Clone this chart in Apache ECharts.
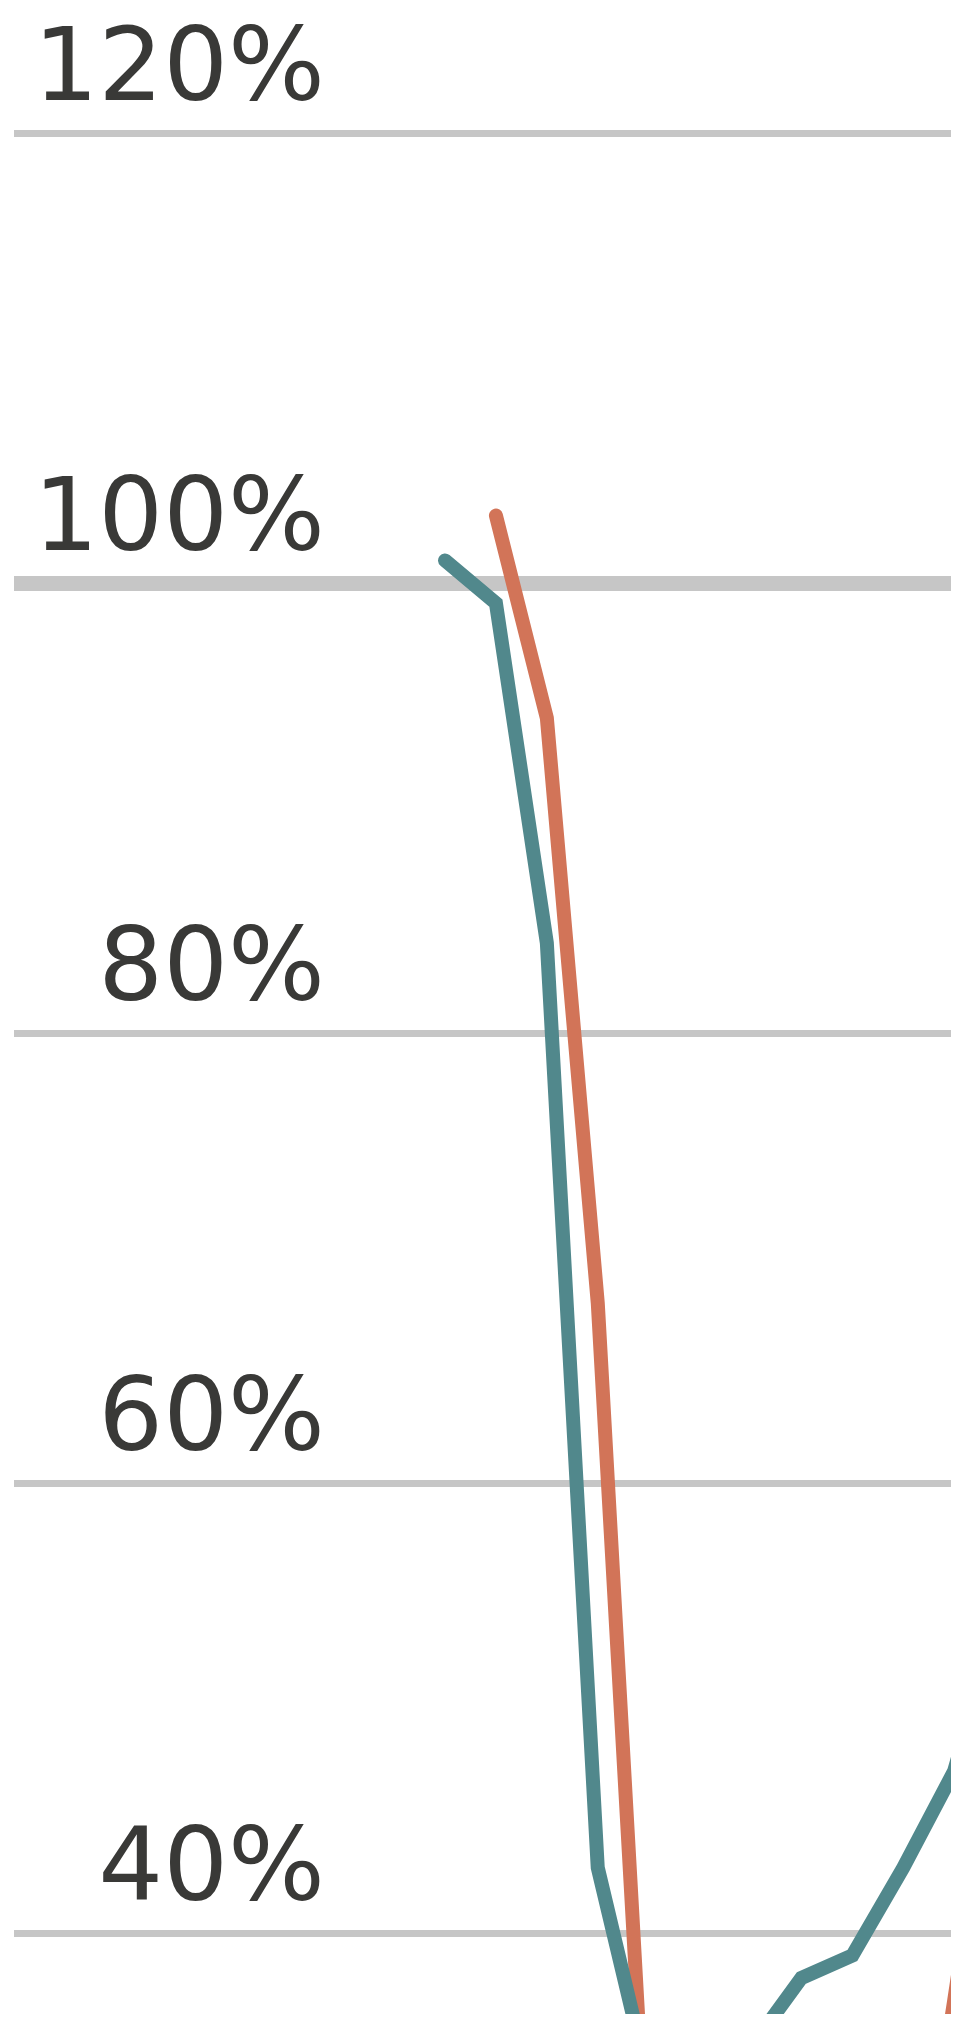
<!DOCTYPE html>
<html lang="en">
<head>
  <meta charset="utf-8"/>
  <title>share chart</title>
  <script src="https://cdn.jsdelivr.net/npm/echarts@6/dist/echarts.min.js"></script>
  <style>
    html, body { margin: 0; padding: 0; background: #fff; }
    #chart { width: 958px; height: 2026px; }
  </style>
</head>
<body>
<div id="chart"></div>
<script>
  // x positions (period index), both series share them
  var periods = [0, 1, 2, 3, 4, 5, 6, 7, 8, 9, 10, 11];
  // teal series, % (values below ~36% fall outside the visible crop)
  var tealValues = [101.0, 99.1, 84.0, 42.9, 33.4, 31.0, 34.9, 38.0, 39.0, 42.9, 47.2, 55.0];
  // orange series, starts one period later
  var orangeValues = [null, 103.0, 94.0, 68.0, 28.0, 22.0, 20.0, 19.0, 21.0, 22.3, 37.0, 52.0];
  // gridline ticks
  var yTicks = [40, 60, 80, 100, 120];

  function pairs(vals) {
    var out = [];
    for (var i = 0; i < periods.length; i++) {
      out.push([periods[i], vals[i]]);
    }
    return out;
  }

  var myChart = echarts.init(document.getElementById('chart'), null, {renderer: 'canvas'});

  var option = {
    backgroundColor: '#ffffff',
    animation: false,
    grid: [
      // gridlines + labels
      {left: 14, right: 7, top: 133, height: 1800},
      // lines; echarts pads the clip by half the line width (7px),
      // so this grid sits 7px inside the visible crop edge
      {left: 400, right: 14, top: 0, bottom: 19}
    ],
    xAxis: [
      {gridIndex: 0, type: 'value', show: false, min: 0, max: 1},
      {gridIndex: 1, type: 'value', show: false, min: -0.884, max: 9.80}
    ],
    yAxis: [
      {
        gridIndex: 0,
        type: 'value',
        min: yTicks[0],
        max: yTicks[yTicks.length - 1],
        interval: 20,
        axisLine: {show: false},
        axisTick: {show: false},
        splitLine: {lineStyle: {color: '#c6c6c6', width: 7}},
        axisLabel: {
          inside: true,
          align: 'right',
          verticalAlign: 'bottom',
          margin: 311,
          lineHeight: 100,
          padding: [0, 0, 10, 0],
          fontFamily: 'DejaVu Sans',
          fontWeight: 'normal',
          fontSize: 102,
          color: '#393937',
          formatter: '{value}%'
        }
      },
      {gridIndex: 1, type: 'value', show: false, min: 36.71, max: 125.91}
    ],
    series: [
      {
        // thick 100% baseline
        type: 'line',
        xAxisIndex: 0,
        yAxisIndex: 0,
        data: [],
        z: 1,
        markLine: {
          silent: true,
          z: 1,
          symbol: ['none', 'none'],
          label: {show: false},
          lineStyle: {color: '#c6c6c6', width: 15, type: 'solid'},
          data: [{yAxis: 100}]
        }
      },
      {
        type: 'line',
        xAxisIndex: 1,
        yAxisIndex: 1,
        data: pairs(orangeValues),
        showSymbol: false,
        clip: true,
        z: 3,
        lineStyle: {color: '#d27458', width: 14, cap: 'round', join: 'miter'}
      },
      {
        type: 'line',
        xAxisIndex: 1,
        yAxisIndex: 1,
        data: pairs(tealValues),
        showSymbol: false,
        clip: true,
        z: 4,
        lineStyle: {color: '#51888c', width: 14, cap: 'round', join: 'miter'}
      }
    ]
  };

  myChart.setOption(option);
</script>
</body>
</html>
